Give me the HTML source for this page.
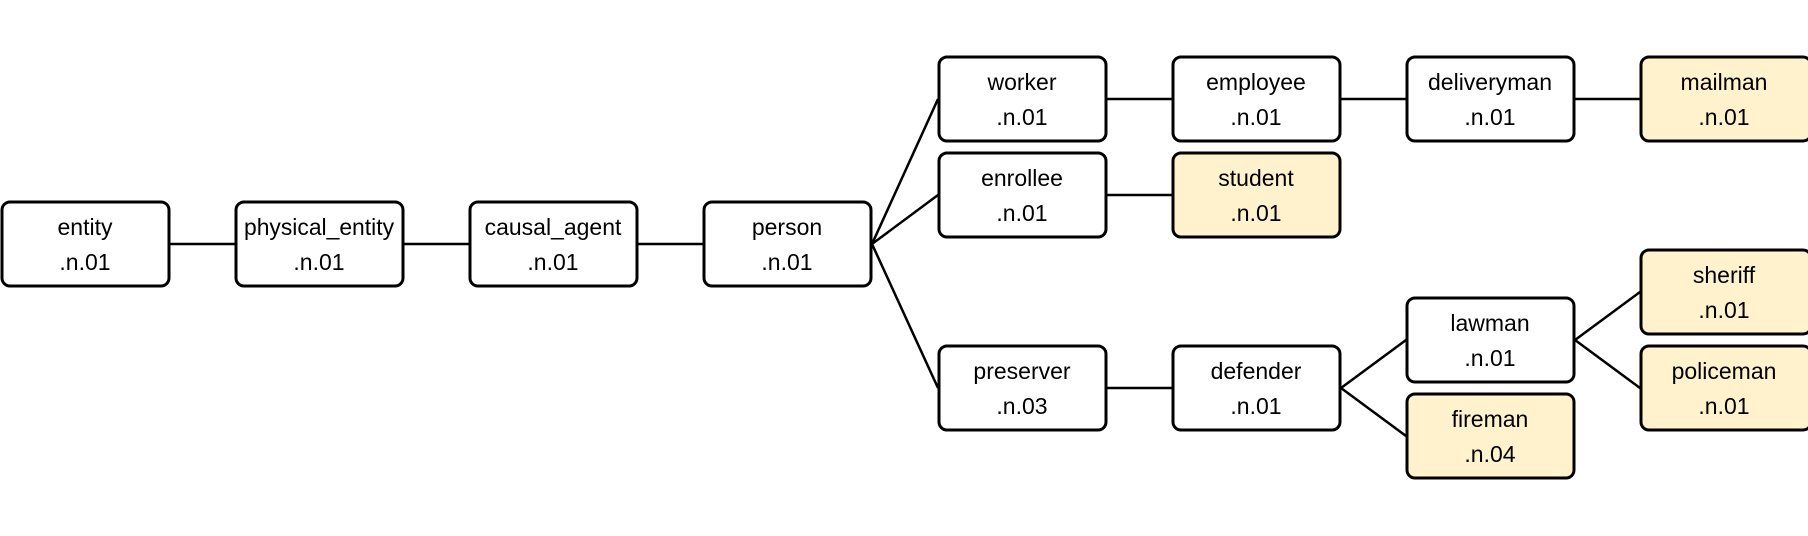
<!DOCTYPE html>
<html><head><style>
body{margin:0;background:#fff;}
svg text{font-family:"Liberation Sans","DejaVu Sans",sans-serif;font-size:23px;fill:#000;text-anchor:middle;}
</style></head><body>
<svg width="1808" height="531" viewBox="0 0 1808 531" xmlns="http://www.w3.org/2000/svg">
<g stroke="#000" stroke-width="2.5" fill="none">
<line x1="170" y1="244" x2="235" y2="244"/>
<line x1="404" y1="244" x2="469" y2="244"/>
<line x1="638" y1="244" x2="703" y2="244"/>
<line x1="872" y1="244" x2="938" y2="99"/>
<line x1="872" y1="244" x2="938" y2="195"/>
<line x1="872" y1="244" x2="938" y2="388"/>
<line x1="1107" y1="99" x2="1172" y2="99"/>
<line x1="1341" y1="99" x2="1406" y2="99"/>
<line x1="1575" y1="99" x2="1640" y2="99"/>
<line x1="1107" y1="195" x2="1172" y2="195"/>
<line x1="1107" y1="388" x2="1172" y2="388"/>
<line x1="1341" y1="388" x2="1406" y2="340"/>
<line x1="1341" y1="388" x2="1406" y2="436"/>
<line x1="1575" y1="340" x2="1640" y2="292"/>
<line x1="1575" y1="340" x2="1640" y2="388"/>
</g>
<g stroke="#000" stroke-width="3">
<rect x="2" y="202" width="167" height="84" rx="8" fill="#fff"/>
<rect x="236" y="202" width="167" height="84" rx="8" fill="#fff"/>
<rect x="470" y="202" width="167" height="84" rx="8" fill="#fff"/>
<rect x="704" y="202" width="167" height="84" rx="8" fill="#fff"/>
<rect x="939" y="57" width="167" height="84" rx="8" fill="#fff"/>
<rect x="939" y="153" width="167" height="84" rx="8" fill="#fff"/>
<rect x="939" y="346" width="167" height="84" rx="8" fill="#fff"/>
<rect x="1173" y="57" width="167" height="84" rx="8" fill="#fff"/>
<rect x="1173" y="153" width="167" height="84" rx="8" fill="#fff2cc"/>
<rect x="1173" y="346" width="167" height="84" rx="8" fill="#fff"/>
<rect x="1407" y="57" width="167" height="84" rx="8" fill="#fff"/>
<rect x="1407" y="298" width="167" height="84" rx="8" fill="#fff"/>
<rect x="1407" y="394" width="167" height="84" rx="8" fill="#fff2cc"/>
<rect x="1641" y="57" width="170" height="84" rx="8" fill="#fff2cc"/>
<rect x="1641" y="250" width="170" height="84" rx="8" fill="#fff2cc"/>
<rect x="1641" y="346" width="170" height="84" rx="8" fill="#fff2cc"/>
</g>
<g>
<text x="85" y="235">entity</text><text x="85" y="270">.n.01</text>
<text x="319" y="235" textLength="150" lengthAdjust="spacingAndGlyphs">physical_entity</text><text x="319" y="270">.n.01</text>
<text x="553" y="235">causal_agent</text><text x="553" y="270">.n.01</text>
<text x="787" y="235">person</text><text x="787" y="270">.n.01</text>
<text x="1022" y="90">worker</text><text x="1022" y="125">.n.01</text>
<text x="1022" y="186">enrollee</text><text x="1022" y="221">.n.01</text>
<text x="1022" y="379">preserver</text><text x="1022" y="414">.n.03</text>
<text x="1256" y="90">employee</text><text x="1256" y="125">.n.01</text>
<text x="1256" y="186">student</text><text x="1256" y="221">.n.01</text>
<text x="1256" y="379">defender</text><text x="1256" y="414">.n.01</text>
<text x="1490" y="90">deliveryman</text><text x="1490" y="125">.n.01</text>
<text x="1490" y="331">lawman</text><text x="1490" y="366">.n.01</text>
<text x="1490" y="427">fireman</text><text x="1490" y="462">.n.04</text>
<text x="1724" y="90">mailman</text><text x="1724" y="125">.n.01</text>
<text x="1724" y="283">sheriff</text><text x="1724" y="318">.n.01</text>
<text x="1724" y="379">policeman</text><text x="1724" y="414">.n.01</text>
</g>
</svg>
</body></html>
